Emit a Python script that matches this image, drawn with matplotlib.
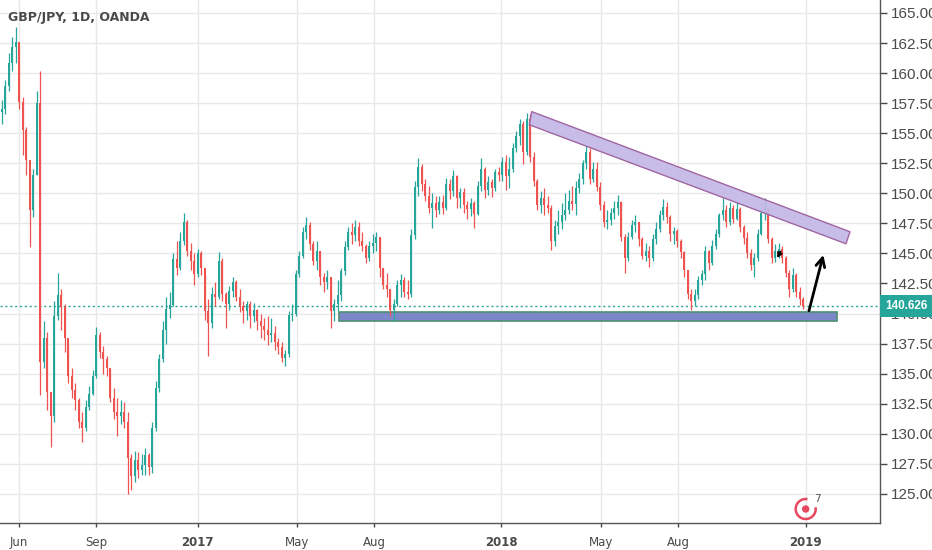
import numpy as np
import pandas as pd
import matplotlib
matplotlib.use("Agg")
import matplotlib.pyplot as plt
from matplotlib.patches import Polygon, Rectangle, Arc, Circle
from matplotlib.transforms import IdentityTransform, blended_transform_factory

first_open = 156.8
closes = [157.0, 158.9, 160.8, 162.2, 162.6, 157.6, 155.3, 152.8, 148.6, 151.5,
          157.5, 136.0, 138.0, 133.5, 131.5, 139.8, 141.5, 140.5, 138.0, 134.8,
          133.6, 132.8, 131.0, 130.5, 132.2, 133.3, 134.8, 138.2, 136.8, 136.2,
          135.5, 133.0, 131.8, 131.5, 131.8, 131.0, 128.0, 126.5, 127.8, 127.0,
          127.4, 128.2, 127.2, 130.5, 133.8, 136.2, 138.6, 140.4, 140.7, 144.5,
          143.8, 146.0, 147.6, 145.2, 144.4, 143.3, 145.0, 143.8, 140.2, 139.2,
          141.6, 141.4, 144.4, 141.6, 140.8, 141.9, 142.6, 141.4, 140.6, 140.2,
          140.8, 139.8, 140.3, 139.4, 139.0, 138.6, 138.2, 138.4, 137.6, 137.2,
          136.3, 136.6, 139.9, 140.0, 143.3, 144.8, 146.8, 147.4, 145.8, 144.4,
          145.2, 143.0, 142.6, 143.0, 140.2, 140.8, 141.5, 143.5, 145.5, 146.8,
          146.5, 147.2, 146.0, 145.6, 144.6, 145.6, 145.9, 146.4, 143.8, 142.4,
          142.0, 140.3, 140.8, 142.4, 142.8, 141.8, 141.6, 146.5, 150.5, 152.2,
          150.8, 149.8, 148.8, 149.2, 148.6, 149.3, 148.8, 150.8, 150.2, 151.4,
          149.6, 150.1, 149.0, 148.7, 149.2, 148.3, 150.6, 152.0, 150.3, 150.9,
          150.4, 151.8, 151.5, 152.6, 151.4, 152.0, 153.8, 154.8, 155.8, 153.4,
          156.2, 153.0, 151.0, 149.0, 149.6, 149.0, 148.8, 146.0, 147.3, 147.6,
          148.2, 148.6, 149.4, 149.1, 150.4, 151.2, 152.5, 153.4, 151.2, 152.0,
          150.5, 149.0, 147.6, 147.8, 148.4, 148.8, 149.3, 146.4, 144.6, 146.4,
          147.4, 147.6, 146.2, 144.8, 145.2, 144.6, 146.2, 147.0, 148.2, 148.9,
          148.0, 146.6, 146.9, 146.0, 145.1, 143.6, 141.6, 141.0, 141.5, 142.8,
          143.3, 145.2, 144.2, 145.6, 146.6, 148.2, 148.6, 147.6, 148.8, 147.9,
          148.7, 147.2, 146.3, 145.0, 144.0, 144.6, 146.6, 148.4, 148.8, 146.2,
          144.6, 145.2, 145.4, 144.6, 143.4, 142.0, 143.2, 141.8, 141.2, 140.626]
highs = [157.8, 159.4, 161.7, 163.0, 163.8, 162.4, 158.0, 155.5, 152.0, 152.0,
         158.5, 160.2, 139.4, 138.5, 132.8, 141.0, 143.4, 142.0, 140.8, 137.5,
         135.5, 134.2, 133.0, 131.8, 132.8, 134.0, 135.3, 138.9, 138.5, 137.3,
         136.5, 135.4, 133.8, 133.0, 132.8, 132.6, 131.8, 128.3, 128.6, 128.5,
         128.3, 128.8, 128.4, 131.0, 134.4, 136.6, 139.4, 141.4, 141.8, 145.0,
         146.0, 146.8, 148.4, 147.8, 145.9, 145.0, 145.4, 145.2, 143.3, 141.2,
         142.2, 142.6, 145.1, 144.6, 141.8, 142.3, 143.0, 142.8, 142.0, 141.0,
         141.0, 141.0, 140.9, 140.4, 140.0, 139.6, 139.8, 139.6, 139.0, 138.0,
         137.6, 137.0, 140.2, 140.8, 143.6, 145.2, 147.2, 148.0, 147.6, 146.0,
         146.0, 145.2, 143.4, 143.6, 143.0, 141.2, 142.8, 143.8, 146.0, 147.2,
         147.5, 147.8, 147.6, 146.8, 145.8, 146.0, 146.6, 146.8, 146.4, 143.8,
         143.4, 142.0, 141.2, 142.8, 143.3, 143.0, 142.8, 147.0, 151.0, 152.9,
         152.4, 151.2, 150.6, 150.0, 149.8, 149.8, 149.9, 151.3, 151.2, 151.9,
         151.5, 150.4, 150.4, 149.4, 149.6, 149.4, 151.0, 152.9, 152.2, 151.4,
         151.2, 152.0, 152.2, 153.0, 153.2, 153.0, 154.2, 155.2, 156.2, 156.0,
         156.7, 156.6, 153.4, 151.2, 150.2, 150.4, 149.8, 149.0, 147.8, 148.6,
         149.2, 150.0, 150.3, 150.6, 151.0, 151.7, 152.8, 153.9, 153.8, 152.6,
         152.6, 150.9, 149.4, 148.6, 148.8, 149.4, 149.9, 149.4, 146.6, 146.8,
         147.8, 148.2, 147.6, 146.4, 145.9, 145.6, 146.6, 147.6, 148.6, 149.5,
         149.3, 148.2, 147.2, 147.0, 146.2, 145.2, 143.6, 142.0, 142.0, 143.1,
         143.6, 145.6, 145.3, 146.1, 147.0, 148.4, 149.6, 149.0, 149.3, 149.0,
         149.4, 148.9, 147.4, 146.8, 145.4, 145.0, 147.0, 148.8, 149.6, 148.9,
         146.4, 145.8, 145.9, 145.6, 144.8, 143.6, 143.8, 143.4, 142.2, 141.4]
lows = [155.8, 156.6, 158.5, 160.2, 160.8, 157.0, 153.2, 151.5, 145.5, 148.0,
        151.5, 133.2, 135.5, 132.0, 128.9, 131.0, 139.5, 138.6, 136.8, 134.2,
        133.0, 132.0, 130.5, 129.3, 130.2, 132.0, 133.2, 134.6, 136.3, 135.0,
        134.8, 132.6, 131.2, 129.8, 130.8, 130.5, 125.0, 125.3, 126.0, 126.3,
        126.6, 126.6, 126.6, 126.7, 130.2, 133.5, 136.0, 137.5, 139.6, 140.6,
        143.2, 143.6, 145.7, 144.8, 143.6, 142.4, 143.0, 143.2, 139.5, 136.5,
        138.8, 140.6, 141.2, 141.0, 138.8, 140.3, 141.4, 141.0, 140.1, 139.2,
        139.5, 138.8, 139.3, 138.6, 138.0, 137.8, 137.4, 137.6, 137.0, 136.6,
        136.0, 135.6, 136.4, 139.4, 139.8, 143.0, 144.6, 146.2, 145.3, 144.0,
        143.6, 142.4, 141.8, 142.0, 138.8, 139.4, 140.2, 141.0, 143.2, 145.3,
        145.8, 146.0, 145.6, 145.2, 144.2, 144.4, 145.0, 145.2, 143.0, 142.0,
        141.4, 139.8, 139.4, 140.6, 141.4, 141.4, 141.2, 141.4, 146.2, 149.8,
        150.2, 149.4, 148.4, 147.1, 148.0, 148.3, 148.3, 148.6, 149.5, 149.8,
        148.8, 148.8, 148.4, 147.9, 148.1, 147.1, 148.2, 150.2, 149.6, 149.9,
        149.7, 150.2, 151.0, 151.0, 150.3, 150.4, 151.8, 153.4, 154.0, 152.4,
        153.2, 152.6, 150.6, 148.6, 148.4, 148.2, 148.4, 145.3, 145.6, 146.6,
        147.0, 147.8, 148.3, 148.6, 148.2, 150.0, 150.8, 152.0, 150.8, 150.9,
        150.2, 148.6, 147.2, 147.0, 147.4, 147.9, 148.2, 146.0, 143.4, 144.4,
        146.2, 146.8, 145.6, 144.5, 144.4, 143.9, 144.4, 145.8, 146.8, 147.8,
        147.5, 146.0, 145.8, 145.5, 144.6, 143.0, 141.2, 140.3, 140.6, 141.2,
        142.4, 142.8, 143.6, 144.0, 145.4, 146.4, 147.8, 147.2, 147.4, 147.5,
        147.8, 146.8, 145.8, 144.6, 143.6, 143.0, 144.4, 146.5, 147.8, 145.9,
        144.2, 144.3, 144.6, 144.2, 143.0, 141.4, 141.8, 141.4, 140.7, 140.4]

start_day = "2016-05-11"
bar_days = 3
tick_dates = ["2016-06-01", "2016-09-01", "2017-01-01", "2017-05-01", "2017-08-01",
              "2018-01-01", "2018-05-01", "2018-08-01", "2019-01-01"]
tick_labels = ["Jun", "Sep", "2017", "May", "Aug", "2018", "May", "Aug", "2019"]
price_ticks = np.arange(125, 165.1, 2.5)

# drawings on the chart (x in trading days from start, y in price)
channel = [(454.2, 156.8), (727.1, 146.8), (723.6, 145.8), (452.2, 155.7)]
support = (289.1, 715.5, 139.4, 140.15)
big_arrow = ((691.3, 140.0), (704.8, 145.1))
small_arrow = ((668.5, 145.35), (663.6, 144.4))

UP = "#26a69a"
DOWN = "#ef5350"
TXT = "#4a4a4a"

closes = np.array(closes)
highs = np.array(highs)
lows = np.array(lows)
opens = np.concatenate([[first_open], closes[:-1]])
x = np.arange(len(closes)) * bar_days

days = pd.bdate_range(start_day, "2019-06-01")
tick_pos = [days.searchsorted(pd.Timestamp(d)) for d in tick_dates]

fig = plt.figure(figsize=(9.32, 5.5), dpi=100)
ax = fig.add_axes([0, 26.7 / 550, 880 / 932, 1 - 26.7 / 550])

px_day = 3.5 / bar_days
ax.set_xlim(-1.75 / px_day, (880 - 1.75) / px_day)
ax.set_ylim(165 - (523.3 - 13) / 12.02, 165 + 13 / 12.02)

# candles
up = closes >= opens
dn = ~up
ax.vlines(x[up], lows[up], highs[up], color=UP, lw=0.9, zorder=2)
ax.vlines(x[dn], lows[dn], highs[dn], color=DOWN, lw=0.9, zorder=2)
ax.bar(x[up], (closes - opens)[up], bottom=opens[up], width=2.0, color=UP, lw=0, zorder=2)
ax.bar(x[dn], (closes - opens)[dn], bottom=opens[dn], width=2.0, color=DOWN, lw=0, zorder=2)

# support box and falling channel
ax.add_patch(Rectangle((support[0], support[2]), support[1] - support[0], support[3] - support[2],
                       facecolor="#7b87c9", edgecolor="#4f8f70", lw=1.2, zorder=1.5))
ax.add_patch(Polygon(channel, closed=True, facecolor="#c3b8e6", edgecolor="#9b5c9b",
                     lw=1, alpha=0.92, zorder=3))

ax.annotate("", xy=big_arrow[1], xytext=big_arrow[0],
            arrowprops=dict(arrowstyle="->", lw=2, color="black", mutation_scale=16), zorder=4)
ax.annotate("", xy=small_arrow[1], xytext=small_arrow[0],
            arrowprops=dict(arrowstyle="->", lw=1.4, color="black", mutation_scale=7), zorder=4)

# last price line + label
last = closes[-1]
ax.axhline(last, color=UP, lw=1, ls=(0, (1.5, 2)), zorder=1.8)
trans = blended_transform_factory(ax.transAxes, ax.transData)
ax.text(1.0 + 5 / 880, last, "%.3f" % last, transform=trans, ha="left", va="center",
        color="white", fontsize=8.5, fontweight="bold", family="Liberation Sans",
        zorder=10, clip_on=False,
        bbox=dict(boxstyle="square,pad=0.45", fc=UP, ec="none"))

# axes styling
ax.set_xticks(tick_pos)
ax.set_xticklabels(tick_labels)
for lab in ax.get_xticklabels():
    if lab.get_text().isdigit():
        lab.set_fontweight("bold")
ax.set_yticks(price_ticks)
ax.set_yticklabels(["%.3f" % p for p in price_ticks])
ax.yaxis.tick_right()
ax.tick_params(axis="y", length=5, pad=2.5, labelsize=11, colors=TXT, width=1)
ax.tick_params(axis="x", length=3, pad=6, labelsize=8.5, colors=TXT, width=1)
for lab in ax.get_yticklabels():
    lab.set_fontfamily("Liberation Sans")
ax.grid(True, color="#e8e8ea", lw=1)
ax.set_axisbelow(True)
for s in ["left", "top"]:
    ax.spines[s].set_visible(False)
for s in ["right", "bottom"]:
    ax.spines[s].set_color("#555555")
    ax.spines[s].set_linewidth(1)

fig.text(8 / 932, 1 - 17 / 550, "GBP/JPY, 1D, OANDA", fontsize=9, fontweight="bold",
         color=TXT, va="center", ha="left")

# little logo near the bottom
logo_c = (805.7, 550 - 509)
fig.add_artist(Arc(logo_c, 20, 20, theta1=80, theta2=370, transform=IdentityTransform(),
                   color="#e8485f", lw=1.8))
fig.add_artist(Circle(logo_c, 3, transform=IdentityTransform(), color="#e8485f"))
fig.text(814 / 932, 1 - 499 / 550, "7", fontsize=7.5, color="#555555", va="center", ha="left")

fig.savefig("out.png", dpi=100)
